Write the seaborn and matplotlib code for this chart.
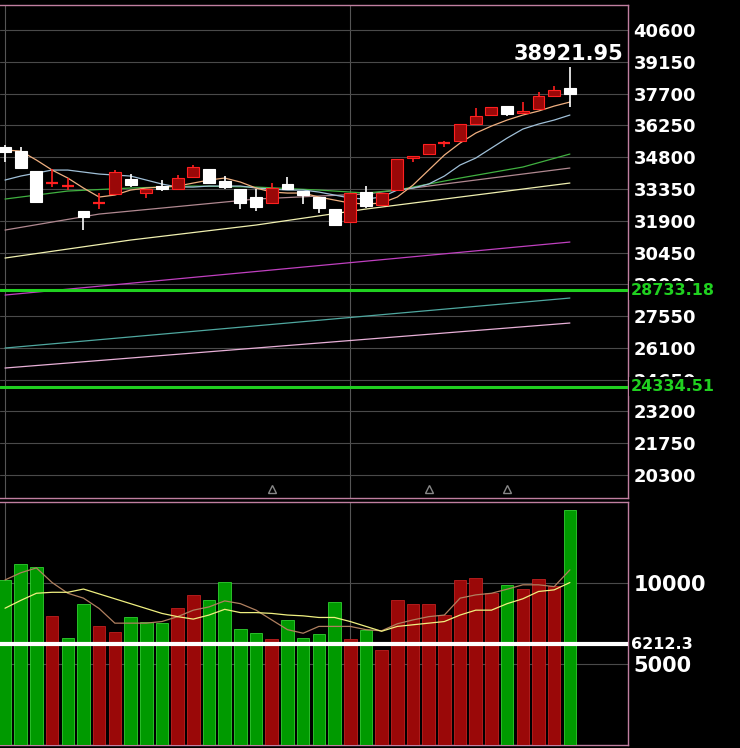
import numpy as np
import pandas as pd
import matplotlib
matplotlib.use("Agg")
import matplotlib.pyplot as plt
import seaborn as sns

opens  = [35262,35080,34168,33610,33475,32343,32700,33118,33803,33164,33483,33347,33894,34259,33711,33347,32982,32708,33575,33255,32982,32434,31841,33210,32617,33301,34761,34943,35420,35536,36312,36723,37133,36814,36996,37589,37954]
highs  = [35354,35262,34168,34259,33848,32343,33164,34213,34031,33347,33757,33985,34441,34259,33940,33347,33347,33620,33894,33255,32982,32434,33164,33483,33164,34715,34852,35399,35536,36312,37042,37087,37133,37315,37772,38045,38921.95]
lows   = [34578,34304,32753,33438,33301,31476,32434,33118,33438,32936,33255,33347,33894,33620,33347,32434,32343,32708,33347,32662,32252,31659,31841,32480,32617,33301,34578,34943,35262,35536,36312,36723,36677,36814,36996,37589,37087]
closes = [35034,34304,32753,33630,33490,32069,32716,34122,33529,33347,33347,33848,34350,33620,33438,32708,32525,33392,33347,33073,32480,31704,33164,32571,33164,34715,34852,35399,35440,36312,36677,37087,36768,36905,37589,37863,37680]
volume = [10160,11130,10980,7970,6600,8690,7340,6970,7870,7580,7520,8460,9240,8930,10020,7150,6880,6540,7700,6600,6840,8810,6540,7090,5860,8930,8690,8690,8010,10160,10270,9340,9860,9610,10230,9800,14470]
vol_up = [0,0,0,1,0,0,1,1,0,0,0,1,1,0,0,0,0,1,0,0,0,0,1,0,1,1,1,1,1,1,1,1,0,1,1,1,0]

ma_salmon = [35126,35080,34670,34213,33849,33393,32982,33073,33301,33393,33438,33484,33621,33758,33849,33666,33393,33210,33164,33164,32982,32845,32708,32663,32708,32982,33529,34213,34898,35445,35901,36221,36495,36723,36905,37133,37316]
ma_blue = [33758,33940,34077,34213,34213,34122,34031,33985,33940,33758,33575,33438,33438,33484,33484,33484,33393,33347,33301,33301,33210,33073,32936,32891,32982,33301,33393,33575,33940,34442,34761,35217,35673,36084,36312,36495,36723]
ma_green_x = [0,4,8,12,16,20,23,25,29,33,36]
ma_green = [32891,33256,33393,33484,33438,33301,33164,33301,33849,34351,34944]
ma_mauve_x = [0,6,12,16,20,23,25,30,36]
ma_mauve = [31476,32206,32617,32891,33028,33119,33301,33758,34305]
ma_yellow_x = [0,8,16,23,26,30,36]
ma_yellow = [30199,31020,31705,32434,32708,33073,33621]
long_x = [0,36]
ma_magenta = [28511,30929]
ma_teal = [26093,28374]
ma_pink = [25181,27234]

vma_yellow = [8420,8900,9340,9400,9400,9600,9300,9000,8700,8400,8100,7900,7750,8000,8350,8150,8150,8100,8000,7950,7850,7850,7600,7300,7000,7300,7400,7500,7600,8000,8300,8300,8700,9000,9450,9550,10000]
vma_tan = [10160,10600,10900,10000,9340,9040,8400,7500,7500,7500,7600,7900,8300,8500,8870,8700,8300,7700,7100,6880,7300,7300,7300,7100,7030,7460,7700,7900,8000,9040,9240,9340,9590,9860,9860,9750,10780]

price_ticks = [40600,39150,37700,36250,34800,33350,31900,30450,29000,27550,26100,24650,23200,21750,20300]
support_levels = [28733.18, 24334.51]
vol_ticks = [10000, 5000]
vol_level = 6212.3
peak_label = "38921.95"

sns.set_theme(style="dark")
plt.rcParams['font.family'] = ['DejaVu Sans']
fig = plt.figure(figsize=(7.4, 7.48), dpi=100, facecolor="black")
axp = fig.add_axes([0.0, 0.3342, 0.8486, 0.659])
axv = fig.add_axes([0.0, 0.004, 0.8486, 0.325])
n = len(opens)
idx = np.arange(n)
XL = (-0.32, 39.7)
for ax in (axp, axv):
    ax.set_facecolor("black")
    for s in ax.spines.values():
        s.set_color("#c07fa0"); s.set_linewidth(1)
    ax.spines['left'].set_visible(False)
    ax.set_xlim(*XL)
    ax.set_xticks([])
    ax.yaxis.tick_right()
    ax.tick_params(axis='y', length=0, pad=4, labelcolor='white', labelsize=13)
    ax.axvline(22.0, color="#555555", lw=0.8, zorder=0)
    ax.axvline(0.0, color="#555555", lw=0.8, zorder=0)

# price panel
axp.set_ylim(19250, 41740)
axp.set_yticks(price_ticks)
axp.set_yticklabels([str(t) for t in price_ticks], fontweight='bold')
for t in price_ticks:
    axp.axhline(t, color="#4a4a4a", lw=0.8, zorder=0)

lines = [
    (idx, ma_pink, "#e8b0d8"), (idx, ma_teal, "#4fa8a0"), (long_x, ma_magenta, "#c040c0"),
    (ma_yellow_x, ma_yellow, "#f0f0b0"), (ma_mauve_x, ma_mauve, "#b08890"),
    (ma_green_x, ma_green, "#40b040"), (idx, ma_blue, "#a0c0d8"), (idx, ma_salmon, "#f0b080"),
]
for xs, ys, c in lines:
    xs = list(xs) if len(xs) == len(ys) else [0, 36]
    sns.lineplot(x=xs, y=ys, ax=axp, color=c, lw=0.9, zorder=2)

for i in range(n):
    o, h, l, c = opens[i], highs[i], lows[i], closes[i]
    up = c >= o
    col = "#ff2020" if up else "white"
    face = "#9a0808" if up else "white"
    axp.vlines(i, l, h, color=col, lw=1.2, zorder=3)
    lo, hi = min(o, c), max(o, c)
    if hi - lo < 60:
        axp.hlines((o + c) / 2, i - 0.38, i + 0.38, color=col, lw=1.6, zorder=4)
    else:
        axp.bar(i, hi - lo, bottom=lo, width=0.76, color=face, edgecolor=col, lw=0.8, zorder=4)

for lv in support_levels:
    axp.axhline(lv, color="#20d020", lw=2.2, zorder=5)
    axp.text(1.005, lv, f"{lv:.2f}", transform=axp.get_yaxis_transform(), color="#20d020",
             fontsize=11.5, fontweight='bold', va='center', ha='left',
             bbox=dict(facecolor='black', edgecolor='none', pad=1.5), zorder=6, clip_on=False)
axp.text(0.992, 39500, peak_label, transform=axp.get_yaxis_transform(), color="white",
         fontsize=15, fontweight='bold', ha='right', va='center')
for xm in [17.0, 27.0, 32.0]:
    axp.plot(xm, 19650, marker='^', ms=6, mfc='none', mec='#888888', zorder=3)

# volume panel
axv.set_ylim(0, 14963)
vdf = pd.DataFrame({"i": idx, "v": volume, "d": ["up" if u else "down" for u in vol_up]})
sns.barplot(data=vdf, x="i", y="v", hue="d", palette={"up": "#9a0808", "down": "#009a00"},
            dodge=False, native_scale=True, width=0.8, saturation=1, legend=False, ax=axv, zorder=3)
for p in axv.patches:
    p.set_edgecolor("#30d030" if p.get_facecolor()[1] > 0.5 else "#c02020"); p.set_linewidth(0.6)
axv.set_xlim(*XL)
axv.set_xlabel(""); axv.set_ylabel("")
axv.set_yticks(vol_ticks)
axv.set_yticklabels([str(t) for t in vol_ticks], fontweight='bold', fontsize=15)
for t in vol_ticks:
    axv.axhline(t, color="#4a4a4a", lw=0.8, zorder=0)
sns.lineplot(x=idx, y=vma_tan, ax=axv, color="#b08060", lw=0.9, zorder=5)
sns.lineplot(x=idx, y=vma_yellow, ax=axv, color="#f0f080", lw=0.9, zorder=5)
axv.axhline(vol_level, color="white", lw=3, zorder=6)
axv.text(1.005, vol_level, f"{vol_level}", transform=axv.get_yaxis_transform(), color="white",
         fontsize=11.5, fontweight='bold', va='center', ha='left',
         bbox=dict(facecolor='black', edgecolor='none', pad=1), zorder=7, clip_on=False)
axp.set_xlabel(""); axp.set_ylabel("")
fig.savefig("out.png", dpi=100, facecolor="black")
